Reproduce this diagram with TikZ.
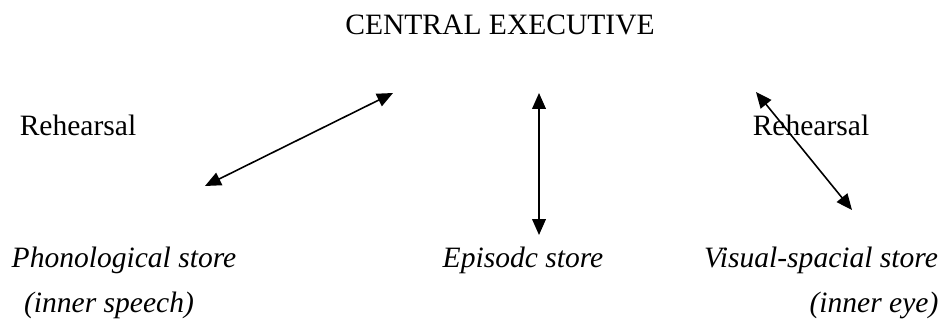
\documentclass[tikz,border=0pt]{standalone}
\usepackage{fontspec}
\setmainfont{Liberation Serif}
\usetikzlibrary{positioning,arrows.meta}

\begin{document}
\begin{tikzpicture}[x=0.44pt,y=-0.44pt,
		textnode/.style={inner sep=0pt,anchor=base,font=\fontsize{13}{15}\selectfont},
		storenode/.style={textnode,font=\fontsize{13}{15}\selectfont\itshape},
		linkarrow/.style={{Triangle[length=7pt,width=6pt]}-{Triangle[length=7pt,width=6pt]},line width=0.7pt}]
		\useasboundingbox (0,0) rectangle (942,322);

		\node[textnode]		(exec)		at (500,35)		{CENTRAL EXECUTIVE};
		\node[textnode]		(rehL)		at (78,135)		{Rehearsal};
		\node[textnode]		(rehR)		at (811,135)	{Rehearsal};
		\node[storenode]	(phon)		at (124,267)	{Phonological store};
		\node[storenode]	(phonsub)	at (109,312)	{(inner speech)};
		\node[storenode]	(epis)		at (523,267)	{Episodc store};
		\node[storenode]	(vis)		at (821,267)	{Visual-spacial store};
		\node[storenode]	(vissub)	at (874,312)	{(inner eye)};

		\coordinate (phonA)	at (205,186);
		\coordinate (phonB)	at (393,93);
		\coordinate (episA)	at (539,93);
		\coordinate (episB)	at (539,235);
		\coordinate (visA)	at (756,92);
		\coordinate (visB)	at (852,210);

		\draw[linkarrow] (phonA) -- (phonB);
		\draw[linkarrow] (episA) -- (episB);
		\draw[linkarrow] (visA) -- (visB);
	\end{tikzpicture}
\end{document}
